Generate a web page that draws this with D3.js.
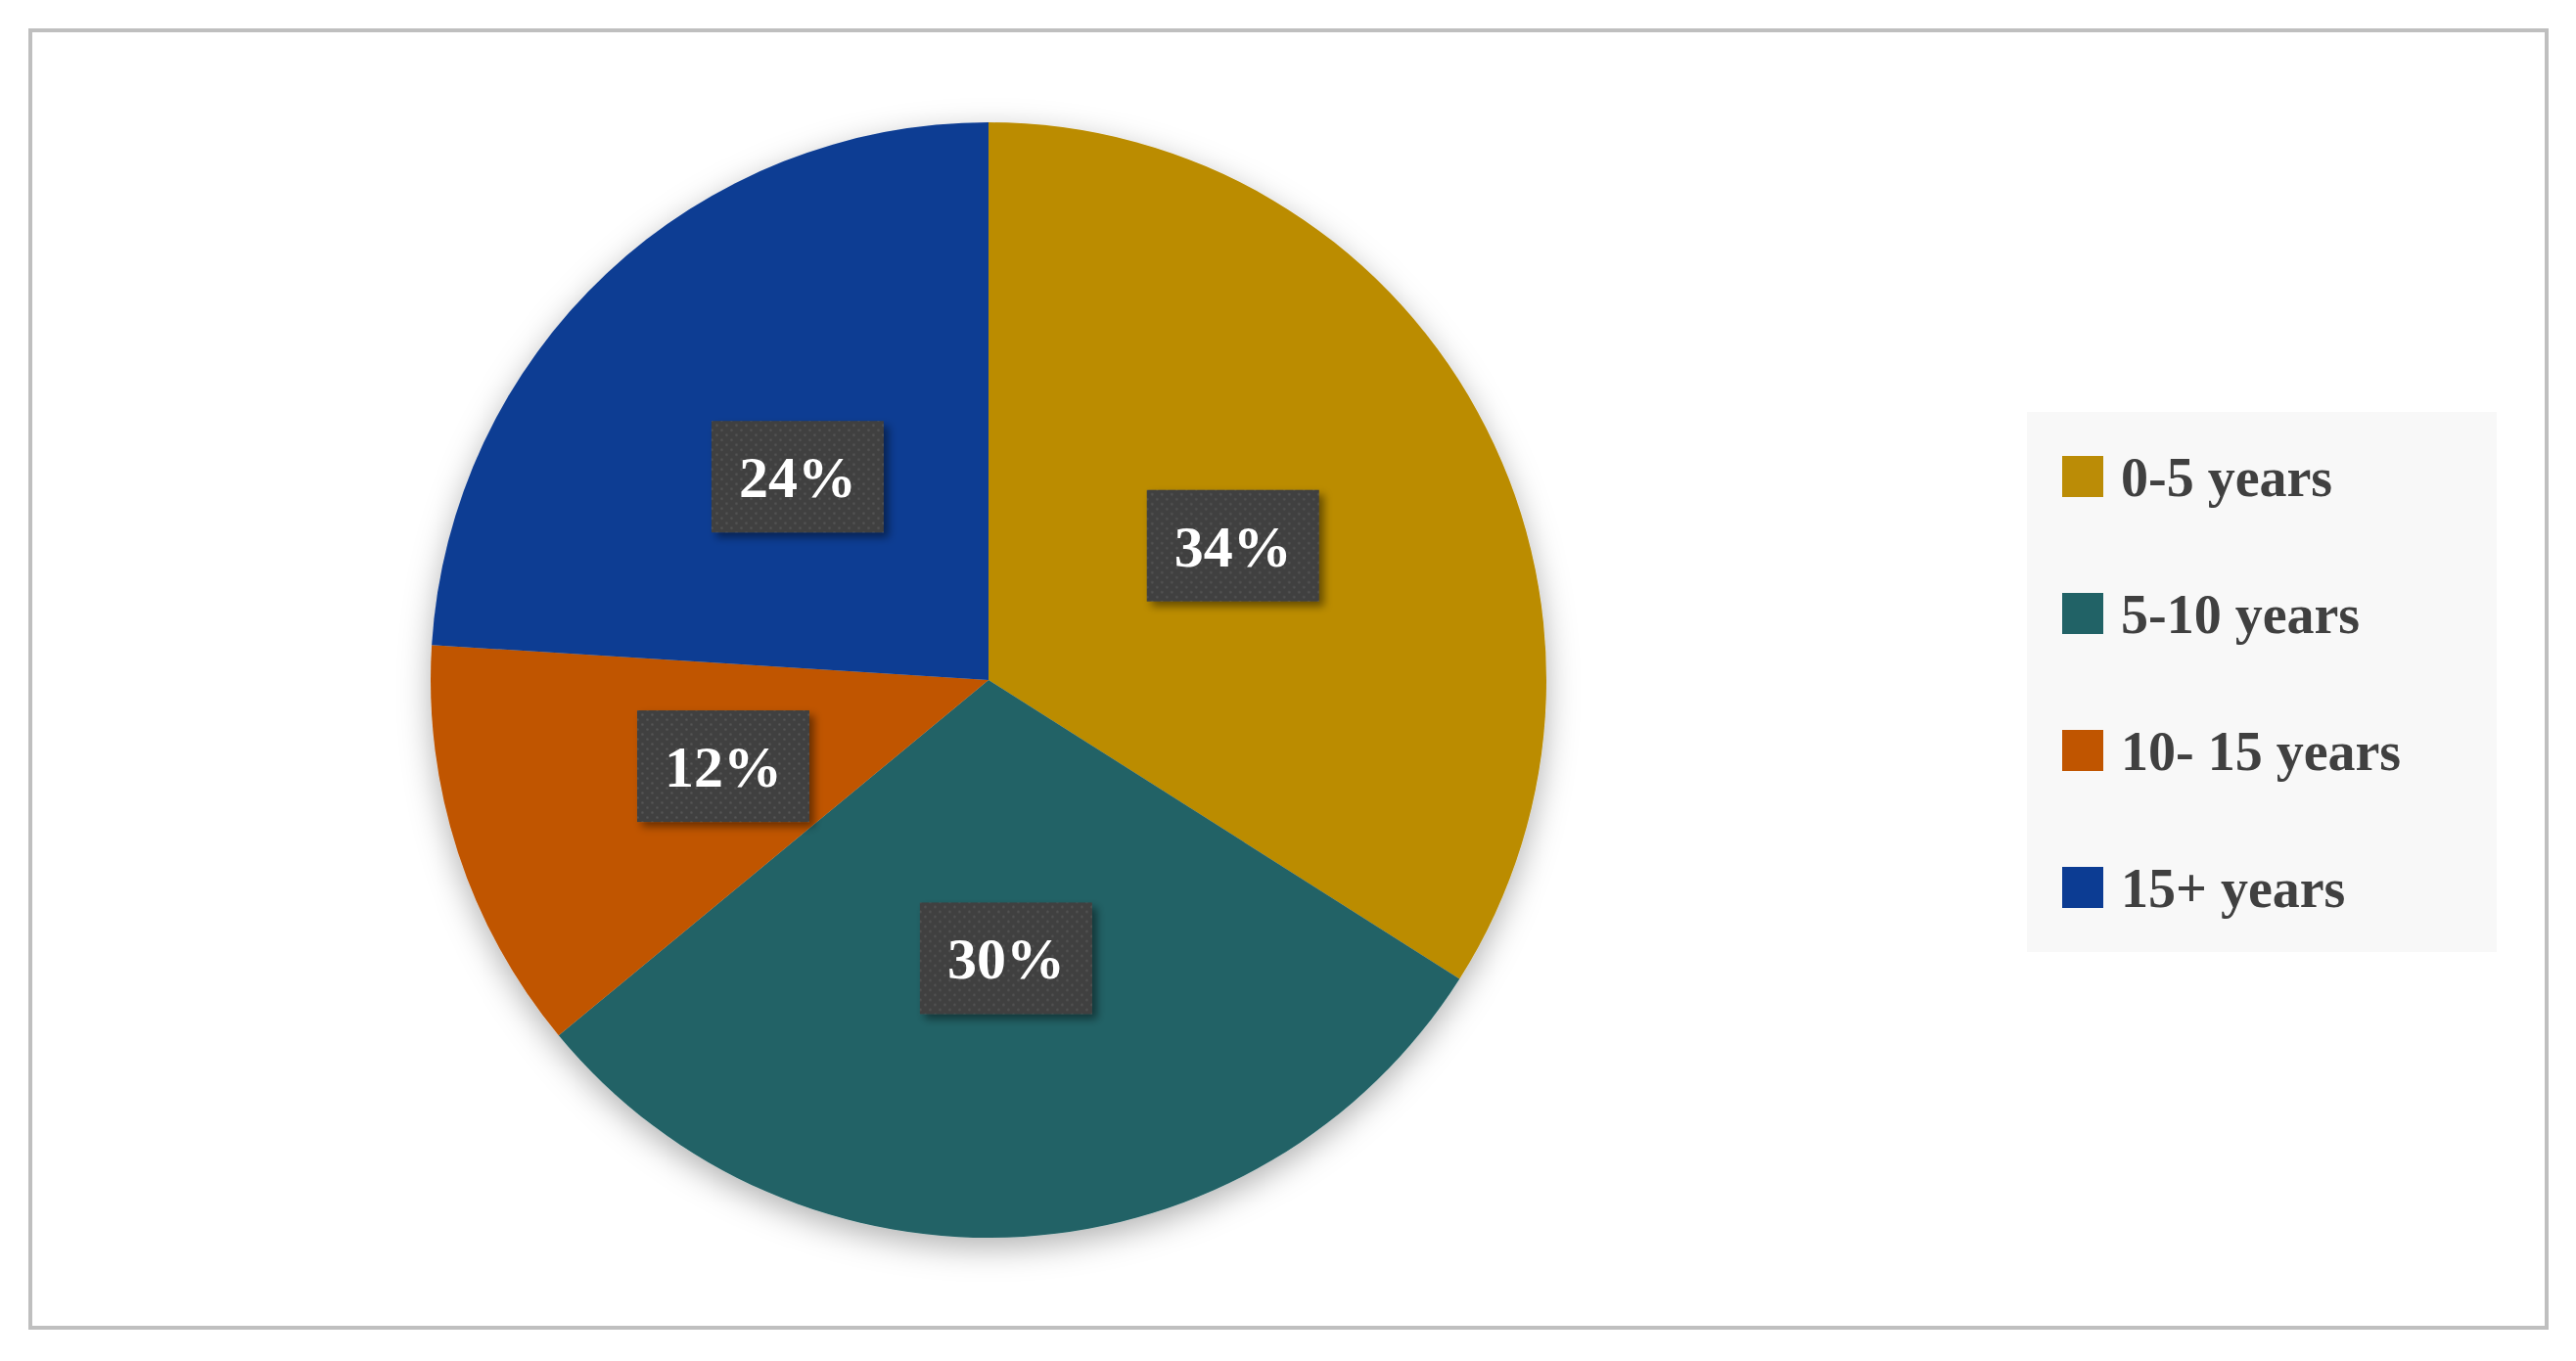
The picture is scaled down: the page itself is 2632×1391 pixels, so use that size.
<!DOCTYPE html>
<html>
<head>
<meta charset="utf-8">
<script src="https://cdn.jsdelivr.net/npm/d3@7"></script>
<style>
  body { margin: 0; background: #fff; }
</style>
</head>
<body>
<svg width="2632" height="1391"></svg>
<script>
var categories = ["0-5 years", "5-10 years", "10- 15 years", "15+ years"];
var values = [34, 30, 12, 24];
var colors = ["#BB8C06", "#216266", "#C05500", "#0C3C93"];

var svg = d3.select("svg"),
    cx = 1010, cy = 695, r = 570;

var defs = svg.append("defs");
var f = defs.append("filter").attr("id", "shadow")
    .attr("x", "-20%").attr("y", "-20%").attr("width", "140%").attr("height", "140%");
f.append("feDropShadow").attr("dx", 0).attr("dy", 10).attr("stdDeviation", 16)
    .attr("flood-color", "#000").attr("flood-opacity", 0.3);
var f2 = defs.append("filter").attr("id", "lshadow")
    .attr("x", "-30%").attr("y", "-30%").attr("width", "160%").attr("height", "160%");
f2.append("feDropShadow").attr("dx", 5).attr("dy", 5).attr("stdDeviation", 4)
    .attr("flood-color", "#000").attr("flood-opacity", 0.45);
var pat = defs.append("pattern").attr("id", "dots").attr("patternUnits", "userSpaceOnUse")
    .attr("width", 10).attr("height", 10);
pat.append("rect").attr("width", 10).attr("height", 10).attr("fill", "#3f3f3f");
pat.append("circle").attr("cx", 2.5).attr("cy", 2.5).attr("r", 1.3).attr("fill", "#555");
pat.append("circle").attr("cx", 7.5).attr("cy", 7.5).attr("r", 1.3).attr("fill", "#555");

svg.append("rect") // frame
    .attr("x", 31).attr("y", 31).attr("width", 2571).attr("height", 1326)
    .attr("fill", "#fff").attr("stroke", "#bfbfbf").attr("stroke-width", 4);

var pie = d3.pie().sort(null).value(function (d) { return d; });
var arc = d3.arc().innerRadius(0).outerRadius(r);
var labelArc = d3.arc().innerRadius(r * 0.5).outerRadius(r * 0.5);
var arcs = pie(values);

var g = svg.append("g").attr("transform", "translate(" + cx + "," + cy + ")");
g.append("g").attr("filter", "url(#shadow)")
  .selectAll("path").data(arcs).enter().append("path")
    .attr("d", arc)
    .attr("fill", function (d, i) { return colors[i]; });

var lab = g.selectAll(".lab").data(arcs).enter().append("g")
    .attr("transform", function (d) { return "translate(" + labelArc.centroid(d) + ")"; });
lab.append("rect")
    .attr("x", -88).attr("y", -57).attr("width", 176).attr("height", 114)
    .attr("fill", "url(#dots)").attr("filter", "url(#lshadow)");
lab.append("text")
    .attr("text-anchor", "middle").attr("dy", "0.35em")
    .attr("fill", "#fff")
    .style("font", "bold 60px 'Liberation Serif', 'DejaVu Serif', serif")
    .text(function (d) { return d.value + "%"; });

var legend = svg.append("g");
legend.append("rect")
    .attr("x", 2071).attr("y", 421).attr("width", 480).attr("height", 552)
    .attr("fill", "#f8f8f8");
var item = legend.selectAll(".item").data(categories).enter().append("g")
    .attr("transform", function (d, i) { return "translate(2107," + (487 + i * 140) + ")"; });
item.append("rect")
    .attr("x", 0).attr("y", -21).attr("width", 42).attr("height", 42)
    .attr("fill", function (d, i) { return colors[i]; });
item.append("text")
    .attr("x", 60).attr("dy", "0.35em")
    .attr("fill", "#404040")
    .style("font", "bold 56px 'Liberation Serif', 'DejaVu Serif', serif")
    .text(function (d) { return d; });
</script>
</body>
</html>
